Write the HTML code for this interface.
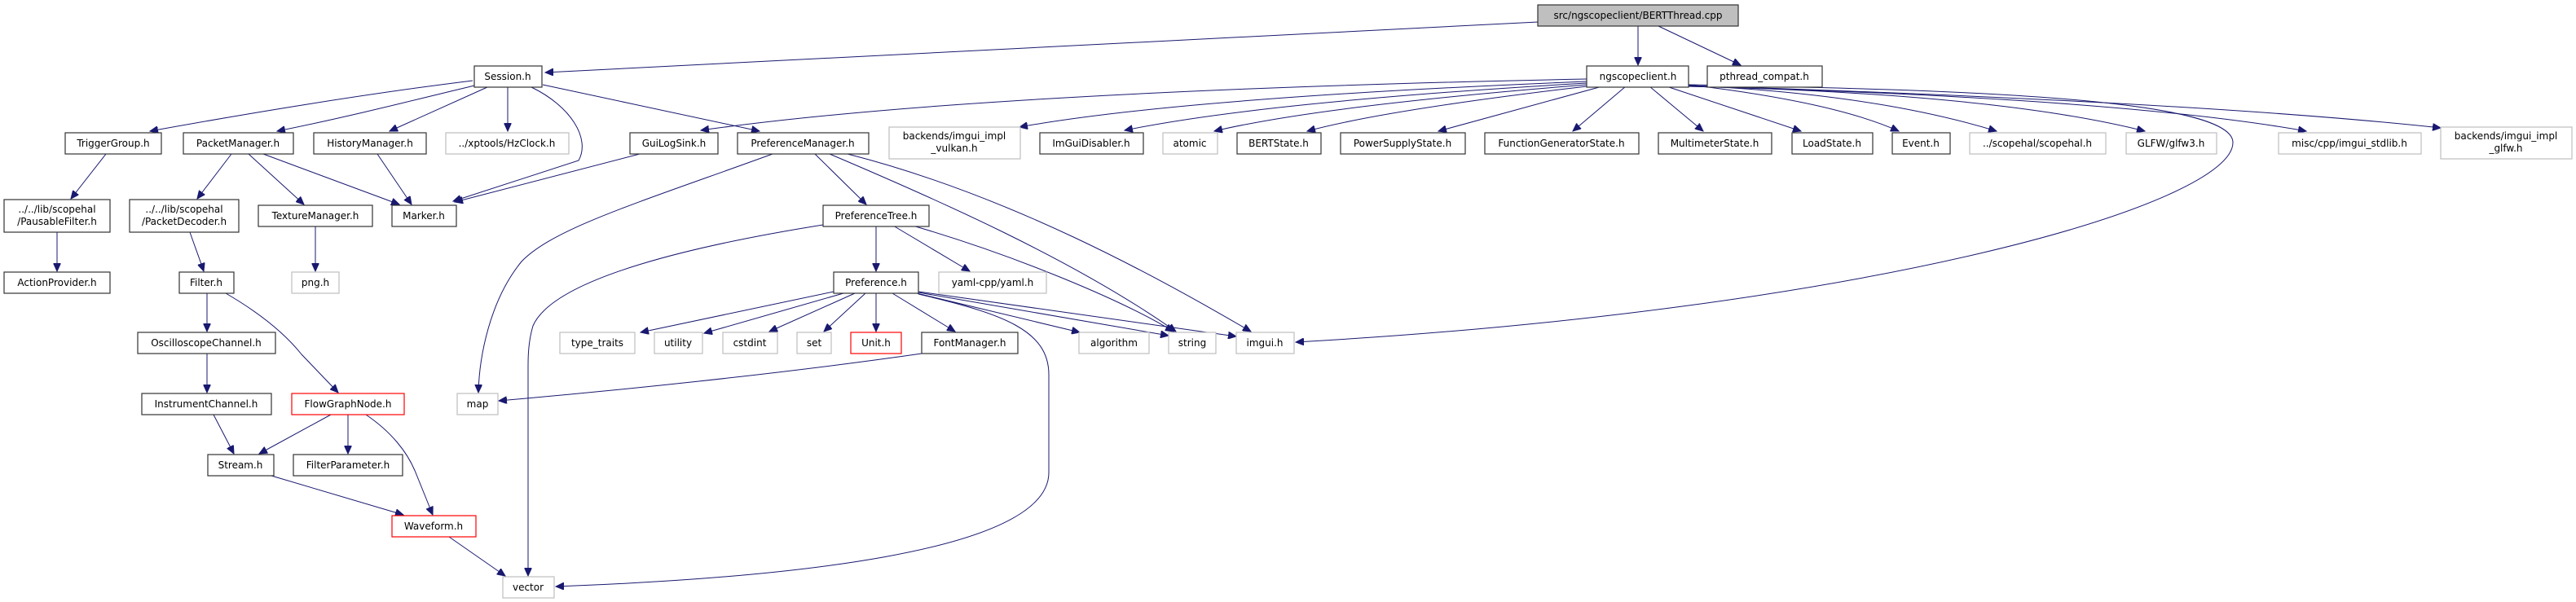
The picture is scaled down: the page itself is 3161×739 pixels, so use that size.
<!DOCTYPE html>
<html><head><meta charset="utf-8"><style>
html,body{margin:0;padding:0;background:#fff;}
svg{display:block;}
text{font-family:"DejaVu Sans","Liberation Sans",sans-serif;font-size:12px;fill:#000;text-anchor:middle;}
.b{fill:#fff;stroke:#333;stroke-width:1.2;}
.g{fill:#fff;stroke:#bfbfbf;stroke-width:1.2;}
.r{fill:#fff;stroke:#ff0000;stroke-width:1.2;}
path.e{fill:none;stroke:#191970;stroke-width:1;marker-end:url(#a);}
</style></head><body>
<svg width="3161" height="739" viewBox="0 0 3161 739" xmlns="http://www.w3.org/2000/svg">
<defs><marker id="a" markerUnits="userSpaceOnUse" markerWidth="11" markerHeight="9" refX="10" refY="4.5" orient="auto"><path d="M0,0 L10,4.5 L0,9 z" fill="#191970" stroke="#191970"/></marker></defs>

<!-- edges -->
<path class="e" d="M1887,27 L669,89"/>
<path class="e" d="M2010,32 L2010,80"/>
<path class="e" d="M2035,32 L2136,80"/>
<path class="e" d="M580,99 C450,115 300,140 184,161"/>
<path class="e" d="M582,105 C500,125 420,145 340,161"/>
<path class="e" d="M598,107 L478,161"/>
<path class="e" d="M623,107 L623,161"/>
<path class="e" d="M652,107 C700,130 725,170 710,197 L556,247"/>
<path class="e" d="M666,104 L932,161"/>
<path class="e" d="M130,189 L87,244"/>
<path class="e" d="M70,285 L70,333"/>
<path class="e" d="M284,189 L242,244"/>
<path class="e" d="M305,189 L373,251"/>
<path class="e" d="M323,189 L490,251"/>
<path class="e" d="M463,189 L505,251"/>
<path class="e" d="M785,189 L558,248"/>
<path class="e" d="M233,285 C240,305 245,318 250,333"/>
<path class="e" d="M387,277 L387,333"/>
<path class="e" d="M254,360 L254,407"/>
<path class="e" d="M277,360 C320,385 350,410 370,435 L415,482"/>
<path class="e" d="M254,434 L254,482"/>
<path class="e" d="M262,509 L287,557"/>
<path class="e" d="M406,509 L318,557"/>
<path class="e" d="M427,509 L427,557"/>
<path class="e" d="M449,509 C480,530 500,555 510,580 C520,605 528,625 531,632"/>
<path class="e" d="M333,584 L495,632"/>
<path class="e" d="M551,659 L620,707"/>
<path class="e" d="M948,189 C780,250 680,280 640,321 C600,370 588,440 587,482"/>
<path class="e" d="M1000,189 L1063,251"/>
<path class="e" d="M1018,189 C1150,245 1320,320 1443,407"/>
<path class="e" d="M1040,189 C1240,240 1420,340 1535,407"/>
<path class="e" d="M1010,276 C860,300 680,340 654,400 C648,420 648,440 648,450 L648,707"/>
<path class="e" d="M1075,277 L1075,333"/>
<path class="e" d="M1096,277 L1190,333"/>
<path class="e" d="M1120,277 C1250,315 1380,370 1440,407"/>
<path class="e" d="M1023,358 L786,408"/>
<path class="e" d="M1035,360 L864,409"/>
<path class="e" d="M1049,360 L944,407"/>
<path class="e" d="M1062,360 L1011,407"/>
<path class="e" d="M1075,360 L1075,407"/>
<path class="e" d="M1095,360 L1172,407"/>
<path class="e" d="M1125,360 L1325,408"/>
<path class="e" d="M1127,359 L1434,412"/>
<path class="e" d="M1127,358 L1517,413"/>
<path class="e" d="M1127,361 C1230,385 1287,405 1287,460 L1287,580 C1287,680 950,710 682,720"/>
<path class="e" d="M1131,434 C950,460 750,480 612,492"/>
<path class="e" d="M1947,97 Q1200,112 860,160"/>
<path class="e" d="M1947,100 Q1450,120 1251,156"/>
<path class="e" d="M1947,102 Q1550,125 1380,160"/>
<path class="e" d="M1947,104 Q1620,130 1490,161"/>
<path class="e" d="M1947,106 Q1700,135 1604,161"/>
<path class="e" d="M1966,106 L1765,161"/>
<path class="e" d="M1995,106 L1930,161"/>
<path class="e" d="M2024,106 L2090,161"/>
<path class="e" d="M2045,106 L2210,161"/>
<path class="e" d="M2072,104 Q2250,125 2330,161"/>
<path class="e" d="M2072,105 Q2300,115 2450,161"/>
<path class="e" d="M2072,106 Q2450,115 2632,161"/>
<path class="e" d="M2072,106 Q2600,120 2830,161"/>
<path class="e" d="M2072,105 Q2700,125 2995,157"/>
<path class="e" d="M2072,104 C2400,110 2740,120 2740,175 C2740,250 2300,380 1590,420"/>

<!-- nodes -->
<rect x="1887" y="6" width="246" height="26" fill="#bfbfbf" stroke="#333" stroke-width="1.2"/><text x="2010" y="23">src/ngscopeclient/BERTThread.cpp</text>
<rect class="b" x="582" y="81" width="83" height="26"/><text x="623" y="98">Session.h</text>
<rect class="b" x="1947" y="81" width="125" height="26"/><text x="2010" y="98">ngscopeclient.h</text>
<rect class="b" x="2095" y="81" width="141" height="26"/><text x="2165" y="98">pthread_compat.h</text>

<rect class="b" x="80" y="163" width="118" height="26"/><text x="139" y="180">TriggerGroup.h</text>
<rect class="b" x="225" y="163" width="135" height="26"/><text x="292" y="180">PacketManager.h</text>
<rect class="b" x="385" y="163" width="138" height="26"/><text x="454" y="180">HistoryManager.h</text>
<rect class="g" x="547" y="163" width="151" height="26"/><text x="622" y="180">../xptools/HzClock.h</text>
<rect class="b" x="773" y="163" width="108" height="26"/><text x="827" y="180">GuiLogSink.h</text>
<rect class="b" x="905" y="163" width="161" height="26"/><text x="985" y="180">PreferenceManager.h</text>
<rect class="g" x="1091" y="156" width="161" height="39"/><text x="1171" y="171">backends/imgui_impl</text><text x="1171" y="186">_vulkan.h</text>
<rect class="b" x="1276" y="163" width="127" height="26"/><text x="1339" y="180">ImGuiDisabler.h</text>
<rect class="g" x="1427" y="163" width="67" height="26"/><text x="1460" y="180">atomic</text>
<rect class="b" x="1518" y="163" width="103" height="26"/><text x="1569" y="180">BERTState.h</text>
<rect class="b" x="1645" y="163" width="153" height="26"/><text x="1721" y="180">PowerSupplyState.h</text>
<rect class="b" x="1822" y="163" width="189" height="26"/><text x="1916" y="180">FunctionGeneratorState.h</text>
<rect class="b" x="2035" y="163" width="139" height="26"/><text x="2104" y="180">MultimeterState.h</text>
<rect class="b" x="2199" y="163" width="99" height="26"/><text x="2248" y="180">LoadState.h</text>
<rect class="b" x="2322" y="163" width="71" height="26"/><text x="2357" y="180">Event.h</text>
<rect class="g" x="2417" y="163" width="167" height="26"/><text x="2500" y="180">../scopehal/scopehal.h</text>
<rect class="g" x="2609" y="163" width="111" height="26"/><text x="2664" y="180">GLFW/glfw3.h</text>
<rect class="g" x="2796" y="163" width="175" height="26"/><text x="2883" y="180">misc/cpp/imgui_stdlib.h</text>
<rect class="g" x="2995" y="156" width="161" height="39"/><text x="3075" y="171">backends/imgui_impl</text><text x="3075" y="186">_glfw.h</text>

<rect class="b" x="5" y="245" width="130" height="40"/><text x="70" y="261">../../lib/scopehal</text><text x="70" y="276">/PausableFilter.h</text>
<rect class="b" x="159" y="245" width="134" height="40"/><text x="226" y="261">../../lib/scopehal</text><text x="226" y="276">/PacketDecoder.h</text>
<rect class="b" x="317" y="252" width="140" height="26"/><text x="387" y="269">TextureManager.h</text>
<rect class="b" x="481" y="252" width="79" height="26"/><text x="520" y="269">Marker.h</text>
<rect class="b" x="1010" y="252" width="130" height="26"/><text x="1075" y="269">PreferenceTree.h</text>

<rect class="b" x="5" y="334" width="130" height="26"/><text x="70" y="351">ActionProvider.h</text>
<rect class="b" x="220" y="334" width="67" height="26"/><text x="253" y="351">Filter.h</text>
<rect class="g" x="358" y="334" width="58" height="26"/><text x="387" y="351">png.h</text>
<rect class="b" x="1023" y="334" width="104" height="26"/><text x="1075" y="351">Preference.h</text>
<rect class="g" x="1152" y="334" width="132" height="26"/><text x="1218" y="351">yaml-cpp/yaml.h</text>

<rect class="b" x="169" y="408" width="169" height="26"/><text x="253" y="425">OscilloscopeChannel.h</text>
<rect class="g" x="687" y="408" width="92" height="26"/><text x="733" y="425">type_traits</text>
<rect class="g" x="803" y="408" width="59" height="26"/><text x="832" y="425">utility</text>
<rect class="g" x="887" y="408" width="67" height="26"/><text x="920" y="425">cstdint</text>
<rect class="g" x="978" y="408" width="42" height="26"/><text x="999" y="425">set</text>
<rect class="r" x="1044" y="408" width="62" height="26"/><text x="1075" y="425">Unit.h</text>
<rect class="b" x="1131" y="408" width="118" height="26"/><text x="1190" y="425">FontManager.h</text>
<rect class="g" x="1324" y="408" width="86" height="26"/><text x="1367" y="425">algorithm</text>
<rect class="g" x="1434" y="408" width="58" height="26"/><text x="1463" y="425">string</text>
<rect class="g" x="1517" y="408" width="71" height="26"/><text x="1552" y="425">imgui.h</text>

<rect class="b" x="174" y="483" width="159" height="26"/><text x="253" y="500">InstrumentChannel.h</text>
<rect class="r" x="358" y="483" width="138" height="26"/><text x="427" y="500">FlowGraphNode.h</text>
<rect class="g" x="561" y="483" width="50" height="26"/><text x="586" y="500">map</text>

<rect class="b" x="255" y="558" width="81" height="26"/><text x="295" y="575">Stream.h</text>
<rect class="b" x="360" y="558" width="134" height="26"/><text x="427" y="575">FilterParameter.h</text>

<rect class="r" x="481" y="633" width="103" height="26"/><text x="532" y="650">Waveform.h</text>

<rect class="g" x="617" y="708" width="63" height="26"/><text x="648" y="725">vector</text>
</svg>
</body></html>
